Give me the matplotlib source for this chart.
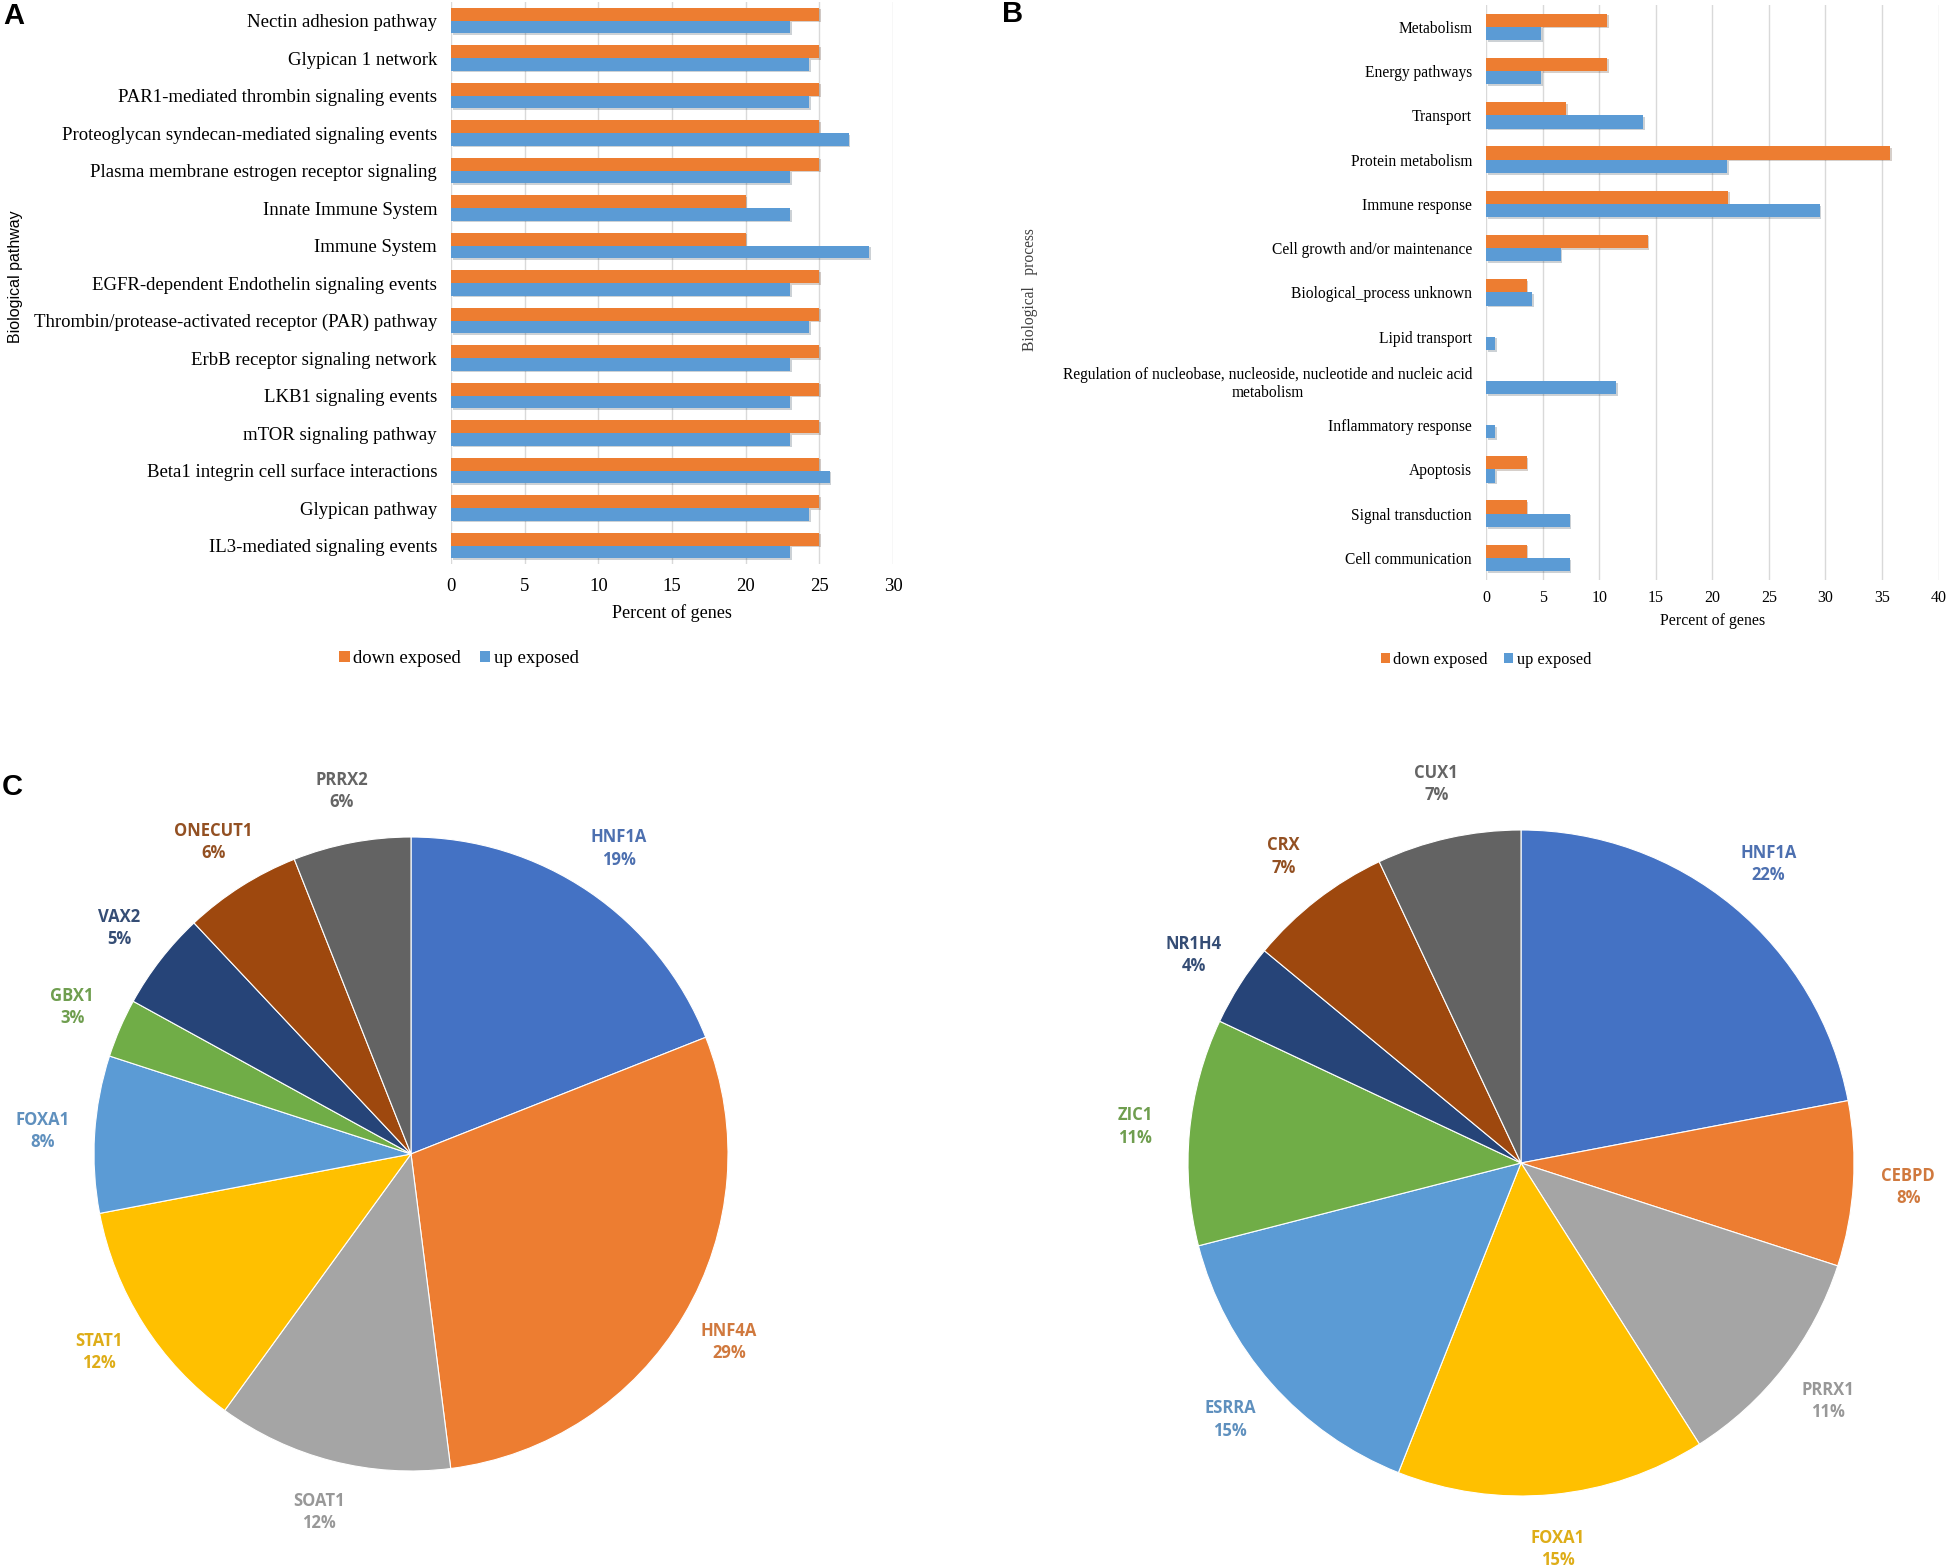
import matplotlib
matplotlib.use("Agg")
import matplotlib.pyplot as plt
import matplotlib.patheffects as pe
from matplotlib.patches import Patch
from matplotlib.colors import to_rgb
import numpy as np

W, H, DPI = 1950, 1566, 100

# ---------------- data ----------------
pathways = [
    "Nectin adhesion pathway",
    "Glypican 1 network",
    "PAR1-mediated thrombin signaling events",
    "Proteoglycan syndecan-mediated signaling events",
    "Plasma membrane estrogen receptor signaling",
    "Innate Immune System",
    "Immune System",
    "EGFR-dependent Endothelin signaling events",
    "Thrombin/protease-activated receptor (PAR) pathway",
    "ErbB receptor signaling network",
    "LKB1 signaling events",
    "mTOR signaling pathway",
    "Beta1 integrin cell surface interactions",
    "Glypican pathway",
    "IL3-mediated signaling events",
]
pathway_down = [25, 25, 25, 25, 25, 20, 20, 25, 25, 25, 25, 25, 25, 25, 25]
pathway_up = [23.0, 24.3, 24.3, 27.0, 23.0, 23.0, 28.4, 23.0, 24.3, 23.0, 23.0, 23.0, 25.7, 24.3, 23.0]

processes = [
    "Metabolism",
    "Energy pathways",
    "Transport",
    "Protein metabolism",
    "Immune response",
    "Cell growth and/or maintenance",
    "Biological_process unknown",
    "Lipid transport",
    "Regulation of nucleobase, nucleoside, nucleotide and nucleic acid\nmetabolism",
    "Inflammatory response",
    "Apoptosis",
    "Signal transduction",
    "Cell communication",
]
process_down = [10.7, 10.7, 7.1, 35.7, 21.4, 14.3, 3.6, 0, 0, 0, 3.6, 3.6, 3.6]
process_up = [4.9, 4.9, 13.9, 21.3, 29.5, 6.6, 4.1, 0.8, 11.5, 0.8, 0.8, 7.4, 7.4]

series_names = ["down exposed", "up exposed"]

tf_down_names = ["HNF1A", "HNF4A", "SOAT1", "STAT1", "FOXA1", "GBX1", "VAX2", "ONECUT1", "PRRX2"]
tf_down_pct = [19, 29, 12, 12, 8, 3, 5, 6, 6]
tf_up_names = ["HNF1A", "CEBPD", "PRRX1", "FOXA1", "ESRRA", "ZIC1", "NR1H4", "CRX", "CUX1"]
tf_up_pct = [22, 8, 11, 15, 15, 11, 4, 7, 7]

# ---------------- styles ----------------
ORANGE = "#ED7D31"
BLUE = "#5B9BD5"
PIE_COLORS = ["#4472C4", "#ED7D31", "#A5A5A5", "#FFC000", "#5B9BD5",
              "#70AD47", "#264478", "#9E480E", "#636363"]
SERIF = "Liberation Serif"
SANS = "Liberation Sans"

fig = plt.figure(figsize=(W / DPI, H / DPI), dpi=DPI)
fig.patch.set_facecolor("white")


def px_axes(l, t, r, b):
    return fig.add_axes([l / W, 1 - b / H, (r - l) / W, (b - t) / H])


def muted(c, k=0.22):
    rgb = np.array(to_rgb(c))
    gray = np.array(to_rgb("#6b6b6b"))
    return tuple((1 - k) * rgb + k * gray)


shadow = [pe.SimplePatchShadow(offset=(1.2, -1.2), alpha=0.22), pe.Normal()]


def bar_panel(ax, cats, down, up, bh, xmax, lab_fs, tick_fs, title_fs, tick_pad,
              title_top_px, bottom_px, height_px):
    y = np.arange(len(cats))
    b1 = ax.barh(y - bh / 2, down, height=bh, color=ORANGE, zorder=3)
    b2 = ax.barh(y + bh / 2, up, height=bh, color=BLUE, zorder=3)
    for p in list(b1) + list(b2):
        p.set_path_effects(shadow)
    ax.set_ylim(len(cats) - 0.5, -0.5)
    ax.set_xlim(0, xmax)
    ax.set_xticks(np.arange(0, xmax + 1, 5))
    ax.set_yticks(y)
    ax.set_yticklabels(cats, fontsize=lab_fs, family=SERIF)
    for t in ax.get_yticklabels():
        t.set_multialignment("center")
    for t in ax.get_xticklabels():
        t.set_fontsize(tick_fs)
        t.set_family(SERIF)
    ax.tick_params(axis="y", length=0, pad=10)
    ax.tick_params(axis="x", length=0, pad=tick_pad)
    for s in ax.spines.values():
        s.set_visible(False)
    ax.set_axisbelow(True)
    ax.xaxis.grid(True, color="#D9D9D9", linewidth=1.0)
    ax.set_xlabel("Percent of genes", fontsize=title_fs, family=SERIF)
    ax.xaxis.set_label_coords(0.5, (bottom_px - title_top_px) / height_px)


# Panel A
A_top, A_bot = 1.75, 564.3
axA = px_axes(451, A_top, 893, A_bot)
bar_panel(axA, pathways, pathway_down, pathway_up, 0.34, 30, 13.5, 13.5, 13.1, 10,
          604, A_bot, A_bot - A_top)

# Panel B
B_top, B_bot = 4.7, 580
axB = px_axes(1486, B_top, 1938.6, B_bot)
bar_panel(axB, processes, process_down, process_up, 0.30, 40, 11.2, 11.5, 11.4, 7.5,
          613, B_bot, B_bot - B_top)

# Legends
handles = [Patch(facecolor=ORANGE), Patch(facecolor=BLUE)]
fig.legend(handles, series_names, loc="center", bbox_to_anchor=(459 / W, 1 - 658.5 / H), ncol=2,
           frameon=False, prop=dict(family=SERIF, size=13.5), handlelength=0.55, handleheight=0.55,
           handletextpad=0.2, columnspacing=1.0)
fig.legend(handles, series_names, loc="center", bbox_to_anchor=(1486 / W, 1 - 660 / H), ncol=2,
           frameon=False, prop=dict(family=SERIF, size=11.8), handlelength=0.55, handleheight=0.55,
           handletextpad=0.2, columnspacing=1.0)

# Y axis titles
fig.text(16 / W, 1 - 277 / H, "Biological pathway", rotation=90, ha="center", va="center",
         fontsize=11.5, family=SANS)
fig.text(1029.5 / W, 1 - 290 / H, "Biological   process", rotation=90, ha="center", va="center",
         fontsize=11.2, family=SERIF, color="#404040")

# Panel letters
for letter, x, y in [("A", 3, 1.5), ("B", 1002, 0), ("C", 2, 772.5)]:
    fig.text(x / W, 1 - y / H, letter, fontsize=21, fontweight="bold", family=SANS,
             va="top", ha="left")


def pie_panel(cx, cy, r, names, pct):
    ax = px_axes(cx - r, cy - r, cx + r, cy + r)
    labels = [f"{n}\n{p}%" for n, p in zip(names, pct)]
    wedges, texts = ax.pie(pct, colors=PIE_COLORS, startangle=90, counterclock=False,
                           labels=labels, labeldistance=1.165,
                           wedgeprops=dict(edgecolor="white", linewidth=0.8),
                           textprops=dict(fontsize=12, fontweight="bold", family="Open Sans"))
    for t, c in zip(texts, PIE_COLORS):
        t.set_horizontalalignment("center")
        t.set_verticalalignment("center")
        t.set_multialignment("center")
        t.set_color(muted(c))
        t.set_linespacing(1.3)
    ax.set_xlim(-1, 1)
    ax.set_ylim(-1, 1)
    ax.set_aspect("equal")
    return ax


pie_panel(411, 1154, 317, tf_down_names, tf_down_pct)
pie_panel(1521, 1163, 333, tf_up_names, tf_up_pct)

fig.savefig("out.png", dpi=DPI, facecolor="white")
